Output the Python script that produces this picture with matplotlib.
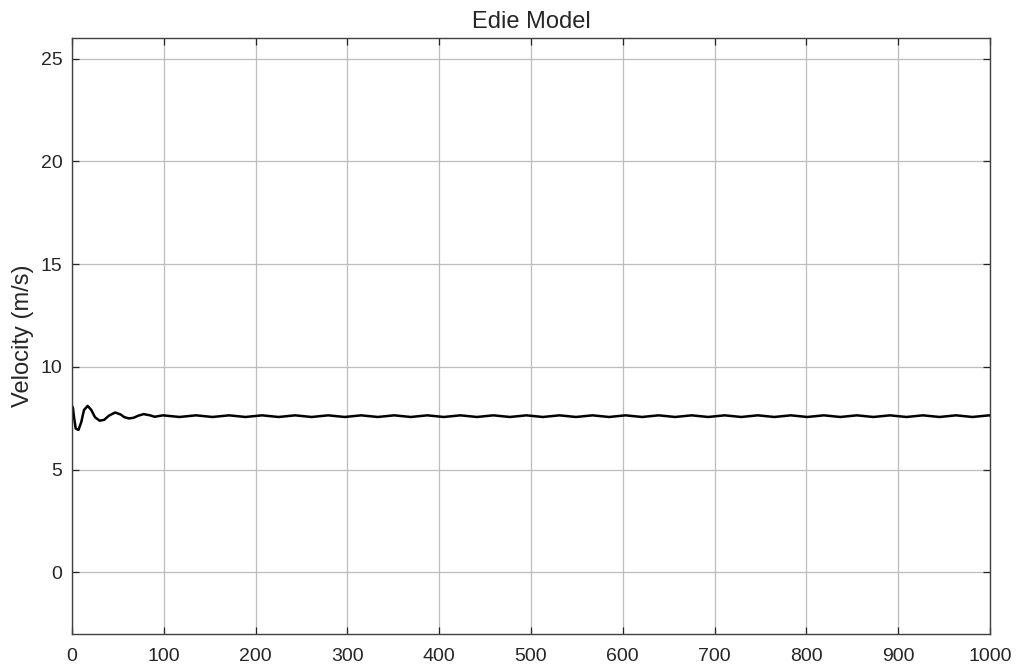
import matplotlib
matplotlib.use("Agg")
import matplotlib.pyplot as plt

plt.rcParams['font.family'] = ['Liberation Sans', 'DejaVu Sans']

# start-up transient of the velocity response (s, m/s)
t_start = [0, 1, 2, 4, 7, 10, 13, 17, 21, 25, 30, 35, 40, 47, 53, 57, 62, 67, 72, 78, 85, 90]
v_start = [8.1, 8.0, 7.6, 7.0, 6.93, 7.3, 7.9, 8.1, 7.9, 7.55, 7.38, 7.42, 7.62, 7.78, 7.68,
           7.55, 7.49, 7.52, 7.62, 7.70, 7.64, 7.57]

# small steady ripple after the transient dies out
t_ripple = [99, 117, 135, 153, 171, 189, 207, 225, 243, 261, 279, 297, 315, 333, 351, 369,
            387, 405, 423, 441, 459, 477, 495, 513, 531, 549, 567, 585, 603, 621, 639, 657,
            675, 693, 711, 729, 747, 765, 783, 801, 819, 837, 855, 873, 891, 909, 927, 945,
            963, 981, 999, 1000]
v_ripple = [7.64, 7.56, 7.64, 7.56, 7.64, 7.56, 7.64, 7.56, 7.64, 7.56, 7.64, 7.56, 7.64,
            7.56, 7.64, 7.56, 7.64, 7.56, 7.64, 7.56, 7.64, 7.56, 7.64, 7.56, 7.64, 7.56,
            7.64, 7.56, 7.64, 7.56, 7.64, 7.56, 7.64, 7.56, 7.64, 7.56, 7.64, 7.56, 7.64,
            7.56, 7.64, 7.56, 7.64, 7.56, 7.64, 7.56, 7.64, 7.56, 7.64, 7.56, 7.64, 7.63]

t = t_start + t_ripple
v = v_start + v_ripple

x_ticks = [0, 100, 200, 300, 400, 500, 600, 700, 800, 900, 1000]
y_ticks = [0, 5, 10, 15, 20, 25]

fig = plt.figure(figsize=(10.19, 6.70), dpi=100)
ax = fig.add_axes([0.0707, 0.0537, 0.9008, 0.8896])

ax.plot(t, v, color='black', linewidth=1.8)

ax.set_xlim(0, 1000)
ax.set_ylim(-3, 26)
ax.set_xticks(x_ticks)
ax.set_yticks(y_ticks)
ax.grid(True, color='#bdbdbd', linewidth=0.9)
ax.set_axisbelow(True)
ax.tick_params(direction='in', length=5, width=0.9, labelsize=14, colors='#262626',
               top=True, right=True)
ax.tick_params(axis='x', pad=10)
ax.tick_params(axis='y', pad=7)
for s in ax.spines.values():
    s.set_color('#404040')
    s.set_linewidth(1.0)

ax.set_ylabel('Velocity (m/s)', fontsize=17, color='#262626', labelpad=5)
ax.set_title('Edie Model', fontsize=17, color='#262626', pad=7)

fig.savefig('out.png', dpi=100)
